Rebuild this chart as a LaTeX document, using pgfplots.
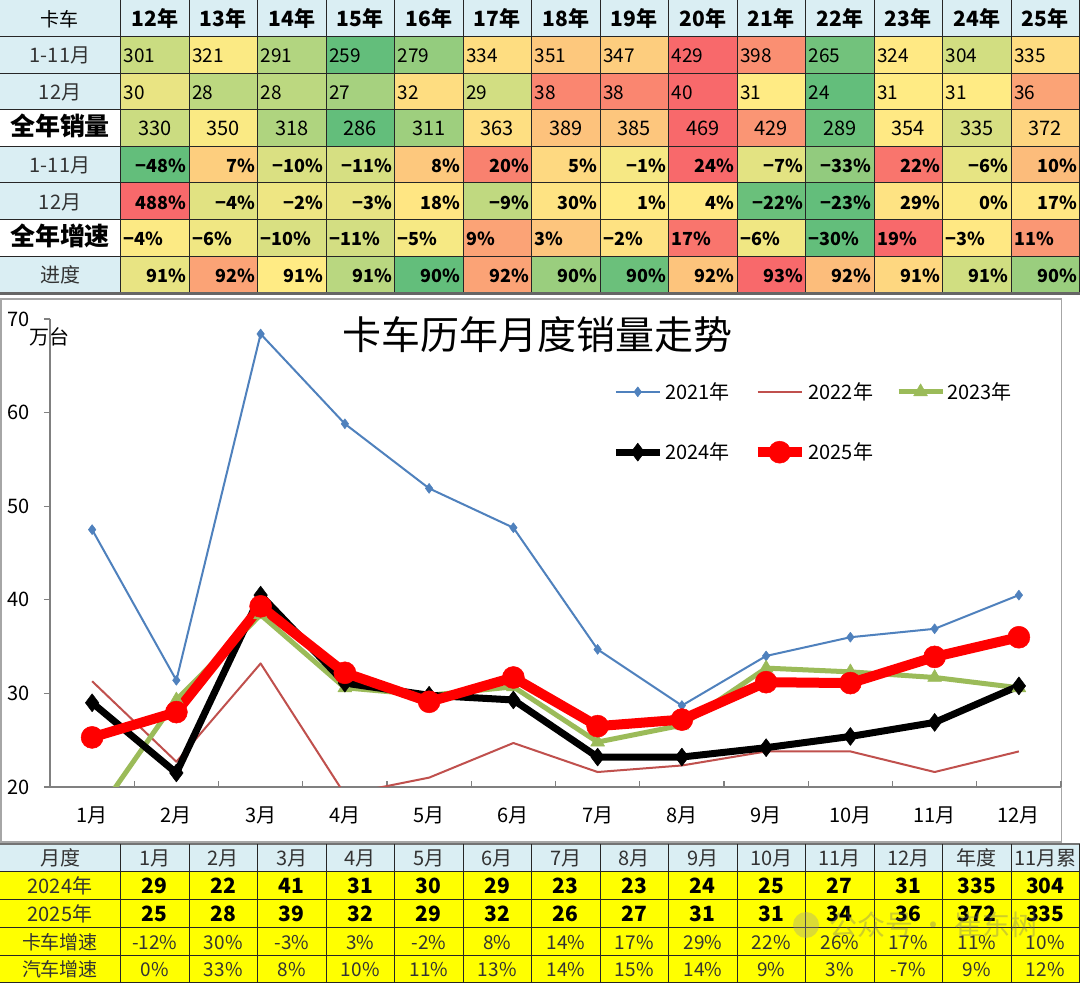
\documentclass[border=0pt]{standalone}
\usepackage{fontspec}
\setmainfont{Noto Sans CJK SC}
\usepackage{pgfplots}
\pgfplotsset{compat=1.18}
\definecolor{hgreen}{HTML}{63BE7B}
\definecolor{hyellow}{HTML}{FFEB84}
\definecolor{hred}{HTML}{F8696B}
\definecolor{hdr}{HTML}{DAEEF3}
\definecolor{ylw}{HTML}{FFFF00}
\definecolor{c21}{HTML}{4F81BD}
\definecolor{c22}{HTML}{C0504D}
\definecolor{c23}{HTML}{9BBB59}
\definecolor{lbl}{HTML}{333333}
\newcommand\fs[1]{\fontsize{#1}{#1}\selectfont}
\newcommand\heatS[1]{%
  \pgfmathsetmacro\hsabs{abs(#1)}%
  \ifdim #1pt>0pt \colorlet{hc}{hred!\hsabs!hyellow}\else\colorlet{hc}{hgreen!\hsabs!hyellow}\fi}
\newcommand\heatV[4]{%
  \ifdim #1pt>#3pt
    \pgfmathsetmacro\hsv{((#1)-(#3))/((#4)-(#3))*100}%
  \else
    \pgfmathsetmacro\hsv{-((#3)-(#1))/((#3)-(#2))*100}%
  \fi
  \heatS{\hsv}}
\tikzset{cell/.style={inner sep=0pt, anchor=mid, yshift=-4pt}}
% #1 row index, #2 min, #3 mid, #4 max, #5 values, #6 align l/r/c, #7 p = percent, n = number, #8 font
\newcommand\toprow[8]{%
  \foreach \v [count=\j] in {#5} {%
    \pgfmathsetmacro\xl{120.5+(\j-1)*68.5}%
    \pgfmathsetmacro\yt{983-#1*36.6}%
    \pgfmathsetmacro\yc{\yt-18.3-1}%
    \heatV{\v}{#2}{#3}{#4}%
    \fill[hc] (\xl,\yt) rectangle ++(68.5,-36.6);
    \if p#7
      \pgfmathtruncatemacro\av{abs(\v)}%
      \def\txt{\ifdim\v pt<0pt −\fi\av\%}%
    \else
      \def\txt{\v}%
    \fi
    \if l#6 \node[cell,anchor=mid west,font=#8] at (\xl+3,\yc) {\txt};\fi
    \if r#6 \node[cell,anchor=mid east,font=#8] at (\xl+66,\yc) {\txt};\fi
    \if c#6 \node[cell,anchor=mid,font=#8] at (\xl+34.25,\yc) {\txt};\fi
  }}
\begin{document}
\begin{tikzpicture}[x=1pt,y=1pt]
\path[use as bounding box] (0,0) rectangle (1080,983);
\fill[white] (0,0) rectangle (1080,983);
% ---------------- top table ----------------
\fill[hdr] (0,983) rectangle (1080,983-36.6);
\foreach \r in {1,2,4,5,7} {\fill[hdr] (0,983-\r*36.6) rectangle (120.5,983-\r*36.6-36.6);}
\node[cell,font=\fs{19}] at (60,983-19.3) {卡车};
\foreach \t [count=\j] in {12年,13年,14年,15年,16年,17年,18年,19年,20年,21年,22年,23年,24年,25年}
  {\node[cell,font=\fs{21}\bfseries] at (120.5+\j*68.5-34.25,983-19.3) {\t};}
\node[cell,font=\fs{20},text=lbl] at (60,983-1.5*36.6-1) {1-11月};
\node[cell,font=\fs{20},text=lbl] at (60,983-2.5*36.6-1) {12月};
\node[cell,font=\fs{25}\bfseries] at (60,983-3.5*36.6-1) {全年销量};
\node[cell,font=\fs{20},text=lbl] at (60,983-4.5*36.6-1) {1-11月};
\node[cell,font=\fs{20},text=lbl] at (60,983-5.5*36.6-1) {12月};
\node[cell,font=\fs{25}\bfseries] at (60,983-6.5*36.6-1) {全年增速};
\node[cell,font=\fs{20},text=lbl] at (60,983-7.5*36.6-1) {进度};
\toprow{1}{259}{322.5}{429}{301,321,291,259,279,334,351,347,429,398,265,324,304,335}{l}{n}{\fs{19}}
\toprow{2}{24}{31}{40}{30,28,28,27,32,29,38,38,40,31,24,31,31,36}{l}{n}{\fs{19}}
\toprow{3}{286}{352}{469}{330,350,318,286,311,363,389,385,469,429,289,354,335,372}{c}{n}{\fs{20}}
\toprow{4}{-48}{2}{24}{-48,7,-10,-11,8,20,5,-1,24,-7,-33,22,-6,10}{r}{p}{\fs{18}\bfseries}
\toprow{5}{-23}{0.5}{488}{488,-4,-2,-3,18,-9,30,1,4,-22,-23,29,0,17}{r}{p}{\fs{18}\bfseries}
\toprow{6}{-30}{-3.5}{19}{-4,-6,-10,-11,-5,9,3,-2,17,-6,-30,19,-3,11}{l}{p}{\fs{18}\bfseries}
\foreach \s/\t [count=\j] in {-15/91,55/92,0/91,-45/91,-100/90,55/92,-65/90,-95/90,30/92,100/93,35/92,15/91,-30/91,-65/90} {
  \pgfmathsetmacro\xl{120.5+(\j-1)*68.5}
  \heatS{\s}
  \fill[hc] (\xl,983-7*36.6) rectangle ++(68.5,-36.6);
  \node[cell,anchor=mid east,font=\fs{18}\bfseries] at (\xl+66,983-7.5*36.6-1) {\t\%};
}
\foreach \r in {0,...,8} {\draw[black!85,line width=1pt] (0,983-\r*36.6) -- (1080,983-\r*36.6);}
\foreach \c in {0,...,14} {\draw[black!85,line width=1pt] (120.5+\c*68.5,983) -- (120.5+\c*68.5,983-8*36.6);}
\draw[black!60,line width=2.5pt] (0,983-293.5) -- (1080,983-293.5);
% ---------------- chart frame ----------------
\draw[black!35,line width=1.2pt] (1,983-299) rectangle (1061.5,983-842);
\node[font=\fs{39}] at (537,983-335) {卡车历年月度销量走势};
\node[font=\fs{20}] at (49,983-337) {万台};
\begin{axis}[
  at={(50pt,196pt)}, anchor=south west,
  scale only axis, width=1011pt, height=468pt,
  xmin=0.5, xmax=12.5, ymin=20, ymax=70,
  axis x line*=bottom, axis y line*=left,
  axis line style={draw=black!50, line width=1.3pt},
  tick style={draw=black!50, line width=1.2pt},
  tick align=outside, major tick length=6pt,
  x tick style={yshift=6pt},
  xtick={0.5,1.5,...,12.5}, xticklabels={},
  extra x ticks={1,2,...,12},
  extra x tick labels={1月,2月,3月,4月,5月,6月,7月,8月,9月,10月,11月,12月},
  extra x tick style={major tick length=0pt},
  ytick={20,30,...,70},
  ticklabel style={font=\fs{20}, text=black},
  /pgf/number format/assume math mode=true,
  yticklabel style={xshift=-11pt},
  xticklabel style={yshift=-16pt},
  clip=true,
  line join=round,
  legend cell align=left,
  legend style={draw=none, fill=none, at={(0.553,0.873)}, anchor=north west,
    font=\fs{20}, /tikz/every even column/.append style={column sep=21pt}, row sep=38pt},
  legend columns=3,
  legend image code/.code={\draw[mark repeat=2,mark phase=2,#1] plot coordinates {(0pt,0pt) (22pt,0pt) (44pt,0pt)};},
]
\addplot[c21, line width=2pt, mark=diamond*, mark size=5pt, mark options={solid, fill=c21, line width=0.5pt}]
  coordinates {(1,47.5) (2,31.4) (3,68.4) (4,58.8) (5,51.9) (6,47.7) (7,34.7) (8,28.7) (9,34.0) (10,36.0) (11,36.9) (12,40.5)};
\addplot[c22, line width=2pt, mark=none]
  coordinates {(1,31.3) (2,22.7) (3,33.2) (4,19.2) (5,21.0) (6,24.7) (7,21.6) (8,22.3) (9,23.8) (10,23.8) (11,21.6) (12,23.8)};
\addplot[c23, line width=5pt, mark=triangle*, mark size=8pt, mark options={solid, fill=c23, line width=0.5pt}]
  coordinates {(1,16.4) (2,29.3) (3,38.4) (4,30.6) (5,29.8) (6,30.7) (7,24.8) (8,26.6) (9,32.7) (10,32.3) (11,31.7) (12,30.6)};
\addplot[black, line width=7pt, mark=diamond*, mark size=9pt, mark options={solid, fill=black, line width=0.5pt}]
  coordinates {(1,29.0) (2,21.5) (3,40.5) (4,31.1) (5,29.8) (6,29.3) (7,23.2) (8,23.2) (9,24.2) (10,25.4) (11,26.9) (12,30.8)};
\addplot[red, line width=10pt, mark=*, mark size=11pt, mark options={solid, fill=red, line width=0.5pt}]
  coordinates {(1,25.3) (2,28.0) (3,39.3) (4,32.2) (5,29.1) (6,31.7) (7,26.5) (8,27.2) (9,31.2) (10,31.1) (11,33.9) (12,36.0)};
\legend{2021年,2022年,2023年,2024年,2025年}
\end{axis}
% ---------------- bottom table ----------------
\def\bt{139}
\fill[hdr] (0,\bt) rectangle (1080,\bt-27.8);
\fill[ylw] (0,\bt-27.8) rectangle (1080,0);
\foreach \t [count=\j] in {月度,1月,2月,3月,4月,5月,6月,7月,8月,9月,10月,11月,12月,年度,11月累} {
  \pgfmathsetmacro\xc{\j==1 ? 60 : 120.5+(\j-1)*68.5-34.25}
  \node[cell,font=\fs{20},text=lbl] at (\xc,\bt-14.9) {\t};}
\foreach \t [count=\j] in {2024年,29,22,41,31,30,29,23,23,24,25,27,31,335,304} {
  \pgfmathsetmacro\xc{\j==1 ? 60 : 120.5+(\j-1)*68.5-34.25}
  \ifnum\j=1 \node[cell,font=\fs{20},text=lbl] at (\xc,\bt-1.5*27.8-1) {\t};
  \else \node[cell,font=\fs{21}\bfseries] at (\xc,\bt-1.5*27.8-1) {\t};\fi}
\foreach \t [count=\j] in {2025年,25,28,39,32,29,32,26,27,31,31,34,36,372,335} {
  \pgfmathsetmacro\xc{\j==1 ? 60 : 120.5+(\j-1)*68.5-34.25}
  \ifnum\j=1 \node[cell,font=\fs{20},text=lbl] at (\xc,\bt-2.5*27.8-1) {\t};
  \else \node[cell,font=\fs{21}\bfseries] at (\xc,\bt-2.5*27.8-1) {\t};\fi}
\foreach \t [count=\j] in {卡车增速,-12\%,30\%,-3\%,3\%,-2\%,8\%,14\%,17\%,29\%,22\%,26\%,17\%,11\%,10\%} {
  \pgfmathsetmacro\xc{\j==1 ? 60 : 120.5+(\j-1)*68.5-34.25}
  \node[cell,font=\fs{19},text=lbl] at (\xc,\bt-3.5*27.8-1) {\t};}
\foreach \t [count=\j] in {汽车增速,0\%,33\%,8\%,10\%,11\%,13\%,14\%,15\%,14\%,9\%,3\%,-7\%,9\%,12\%} {
  \pgfmathsetmacro\xc{\j==1 ? 60 : 120.5+(\j-1)*68.5-34.25}
  \node[cell,font=\fs{19},text=lbl] at (\xc,\bt-4.5*27.8-1) {\t};}
\foreach \r in {1,...,5} {\draw[black!85,line width=1pt] (0,\bt-\r*27.8) -- (1080,\bt-\r*27.8);}
\draw[black!55,line width=2pt] (0,\bt) -- (1080,\bt);
\foreach \c in {0,...,14} {\draw[black!85,line width=1pt] (120.5+\c*68.5,\bt) -- (120.5+\c*68.5,0);}
% watermark
\fill[black!40,opacity=0.35] (806,983-925) circle (13);
\node[font=\fs{28},text=black!55,opacity=0.35,anchor=west] at (826,983-925) {公众号 · 崔东树};
\end{tikzpicture}
\end{document}
